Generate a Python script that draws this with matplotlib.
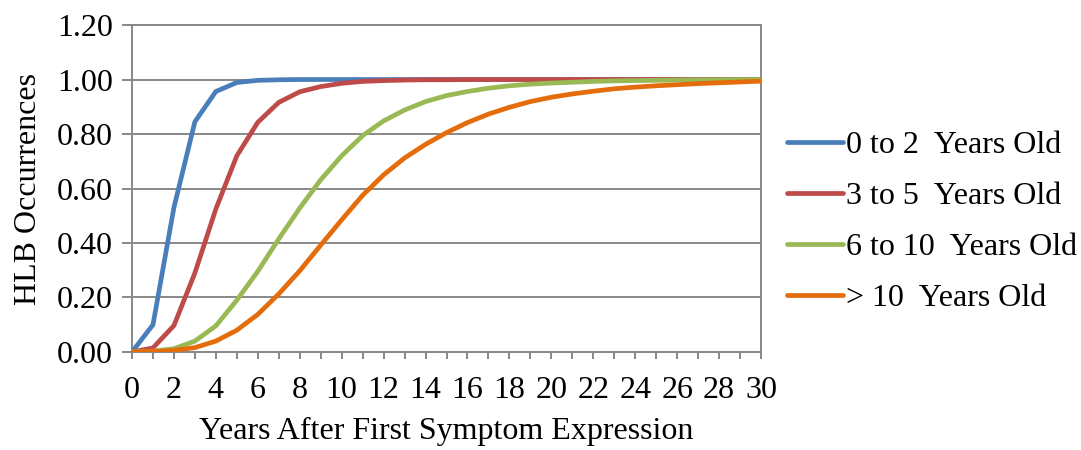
import numpy as np
import matplotlib.pyplot as plt
from matplotlib.ticker import MultipleLocator, FormatStrFormatter

plt.rcParams['font.family'] = ['Liberation Serif', 'DejaVu Serif']

years = list(range(0, 31))
age_0_2 = [0.0, 0.10, 0.53, 0.845, 0.956, 0.989, 0.997, 0.999, 1.0, 1.0,
           1.0, 1.0, 1.0, 1.0, 1.0, 1.0, 1.0, 1.0, 1.0, 1.0,
           1.0, 1.0, 1.0, 1.0, 1.0, 1.0, 1.0, 1.0, 1.0, 1.0, 1.0]
age_3_5 = [0.0, 0.015, 0.097, 0.29, 0.525, 0.72, 0.843, 0.916, 0.955, 0.974,
           0.986, 0.993, 0.996, 0.998, 0.999, 0.999, 1.0, 1.0, 1.0, 1.0,
           1.0, 1.0, 1.0, 1.0, 1.0, 1.0, 1.0, 1.0, 1.0, 1.0, 1.0]
age_6_10 = [0.0, 0.003, 0.012, 0.04, 0.096, 0.19, 0.296, 0.415, 0.528, 0.632,
            0.72, 0.794, 0.848, 0.888, 0.919, 0.941, 0.956, 0.968, 0.977, 0.983,
            0.987, 0.990, 0.993, 0.995, 0.996, 0.997, 0.998, 0.999, 0.999, 1.0, 1.0]
age_over_10 = [0.0, 0.002, 0.006, 0.016, 0.04, 0.08, 0.138, 0.213, 0.298, 0.392,
               0.485, 0.575, 0.65, 0.712, 0.762, 0.805, 0.842, 0.873, 0.898, 0.919,
               0.935, 0.947, 0.957, 0.966, 0.972, 0.977, 0.981, 0.985, 0.988, 0.991, 0.994]

labels = ['0 to 2  Years Old', '3 to 5  Years Old', '6 to 10  Years Old', '> 10  Years Old']
colors = ['#4A7EBB', '#BE4B48', '#98B954', '#E46C0A']

fig = plt.figure(figsize=(10.81, 4.5), dpi=100)
ax = fig.add_axes([0.1221, 0.2178, 0.5819, 0.7266])

grid_c = '#888888'
for y in np.arange(0.2, 1.21, 0.2):
    ax.axhline(y, color=grid_c, lw=1.4, zorder=1)

for vals, lab, c in zip([age_0_2, age_3_5, age_6_10, age_over_10], labels, colors):
    ax.plot(years, vals, color=c, lw=3.4, label=lab, zorder=3, solid_capstyle='round')

ax.set_xlim(0, 30)
ax.set_ylim(0, 1.2)
ax.xaxis.set_major_locator(MultipleLocator(2))
ax.xaxis.set_minor_locator(MultipleLocator(1))
ax.yaxis.set_major_locator(MultipleLocator(0.2))
ax.yaxis.set_major_formatter(FormatStrFormatter('%.2f'))

for side in ['left', 'bottom', 'right', 'top']:
    ax.spines[side].set_color(grid_c)
    ax.spines[side].set_linewidth(1.4)

ax.tick_params(axis='both', which='both', direction='out', color=grid_c, width=1.4)
ax.tick_params(axis='x', which='major', length=5, labelsize=23, pad=12)
ax.tick_params(axis='x', which='minor', length=5)
ax.tick_params(axis='y', which='major', length=7.5, labelsize=23, pad=6)

ax.set_xlabel('Years After First Symptom Expression', fontsize=23, labelpad=9)
ax.set_ylabel('HLB Occurrences', fontsize=23, labelpad=10)

leg = ax.legend(loc='center left', bbox_to_anchor=(1.041, 0.398), frameon=False,
                fontsize=23, handlelength=1.75, handletextpad=0.1,
                labelspacing=0.68, borderaxespad=0, borderpad=0)

fig.savefig('out.png', dpi=100, facecolor='white')
